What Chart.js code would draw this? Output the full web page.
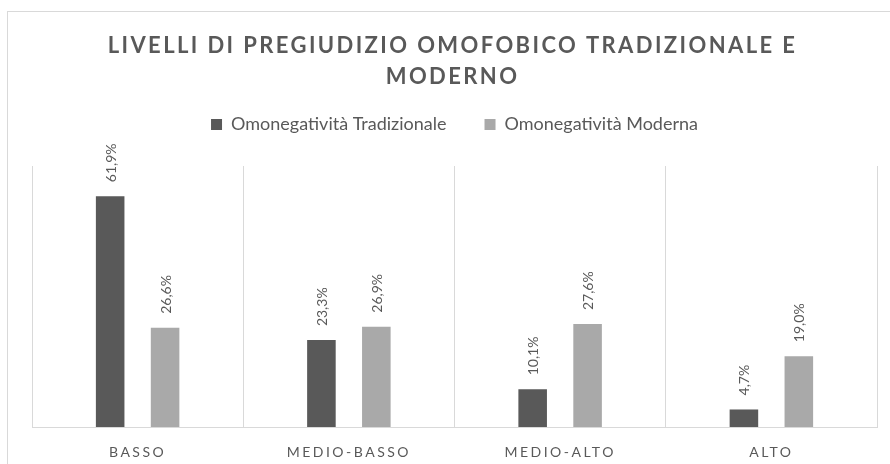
<!DOCTYPE html>
<html lang="it">
<head>
<meta charset="utf-8">
<title>Livelli di pregiudizio omofobico</title>
<script src="https://cdn.jsdelivr.net/npm/chart.js@4.4.1/dist/chart.umd.min.js"></script>
<style>
    html, body { margin: 0; padding: 0; background: #fff; }
    #grafico { display: block; }
</style>
</head>
<body>
<canvas id="grafico" width="890" height="464"></canvas>
<script>
// Dati del grafico
const titolo = ["LIVELLI DI PREGIUDIZIO OMOFOBICO TRADIZIONALE E", "MODERNO"];
const categorie = ["BASSO", "MEDIO-BASSO", "MEDIO-ALTO", "ALTO"];
const serieTradizionale = [61.9, 23.3, 10.1, 4.7];
const serieModerna = [26.6, 26.9, 27.6, 19.0];
const nomiSerie = ["Omonegatività Tradizionale", "Omonegatività Moderna"];

const GRIGIO_TESTO = "#595959";
const GRIGIO_LINEE = "#d9d9d9";

// Percentuale con la virgola come separatore decimale
function formattaPercentuale(v) {
    return v.toFixed(1).replace(".", ",") + "%";
}

// Cornice esterna del grafico
const cornice = {
    id: "cornice",
    beforeDraw(chart) {
        const ctx = chart.ctx;
        ctx.save();
        ctx.strokeStyle = GRIGIO_LINEE;
        ctx.lineWidth = 1;
        ctx.strokeRect(7.5, 11.5, 900, 500);
        ctx.restore();
    }
};

// Spazio in più sotto la legenda
const spazioLegenda = {
    id: "spazioLegenda",
    beforeInit(chart) {
        const fitOriginale = chart.legend.fit;
        chart.legend.fit = function () {
            fitOriginale.bind(chart.legend)();
            this.height += 22.5;
        };
    }
};

// Etichette dei valori ruotate sopra le barre
const etichetteValori = {
    id: "etichetteValori",
    afterDatasetsDraw(chart) {
        const ctx = chart.ctx;
        chart.data.datasets.forEach((ds, i) => {
            const meta = chart.getDatasetMeta(i);
            meta.data.forEach((barra, j) => {
                ctx.save();
                ctx.translate(barra.x + 1, barra.y - 14);
                ctx.rotate(-Math.PI / 2);
                ctx.font = "14px Lato";
                ctx.fillStyle = GRIGIO_TESTO;
                ctx.textAlign = "left";
                ctx.textBaseline = "middle";
                ctx.fillText(formattaPercentuale(ds.data[j]), 0, 0);
                ctx.restore();
            });
        });
        // le etichette dell'asse x vengono disegnate dopo, spaziate
        ctx.letterSpacing = "2.5px";
    },
    afterDraw(chart) {
        const ctx = chart.ctx;
        ctx.letterSpacing = "0px";

        // titolo su due righe, spaziato
        const area = chart.chartArea;
        const cx = (area.left + area.right) / 2 - 2;
        ctx.save();
        ctx.letterSpacing = "2.4px";
        ctx.font = "bold 22px Lato";
        ctx.fillStyle = GRIGIO_TESTO;
        ctx.textAlign = "center";
        ctx.textBaseline = "alphabetic";
        ctx.fillText(titolo[0], cx, 52.5);
        ctx.fillText(titolo[1], cx, 83.5);
        ctx.restore();
        ctx.letterSpacing = "0px";
    }
};

const ctx = document.getElementById("grafico").getContext("2d");

new Chart(ctx, {
    type: "bar",
    data: {
        labels: categorie,
        datasets: [
            {
                label: nomiSerie[0],
                data: serieTradizionale,
                backgroundColor: "#595959",
                borderWidth: 0
            },
            {
                label: nomiSerie[1],
                data: serieModerna,
                backgroundColor: "#a9a9a9",
                borderWidth: 0
            }
        ]
    },
    options: {
        responsive: false,
        animation: false,
        categoryPercentage: 0.52,
        barPercentage: 0.52,
        layout: {
            padding: { top: 77.5, left: 32, right: 13, bottom: 3 }
        },
        plugins: {
            title: { display: false },
            tooltip: { enabled: false },
            legend: {
                position: "top",
                labels: {
                    font: { family: "Lato", size: 18 },
                    color: GRIGIO_TESTO,
                    boxWidth: 11,
                    boxHeight: 11,
                    padding: 38
                }
            }
        },
        scales: {
            x: {
                grid: {
                    color: GRIGIO_LINEE,
                    lineWidth: 1,
                    drawTicks: false,
                    offset: true
                },
                border: { color: GRIGIO_LINEE, width: 1 },
                ticks: {
                    z: 1,
                    padding: 16.6,
                    maxRotation: 0,
                    color: GRIGIO_TESTO,
                    font: { family: "Lato", size: 14 }
                },
                afterFit(scala) {
                    scala.height = 34;
                }
            },
            y: {
                display: false,
                min: 0,
                max: 70
            }
        }
    },
    plugins: [cornice, spazioLegenda, etichetteValori]
});
</script>
</body>
</html>
